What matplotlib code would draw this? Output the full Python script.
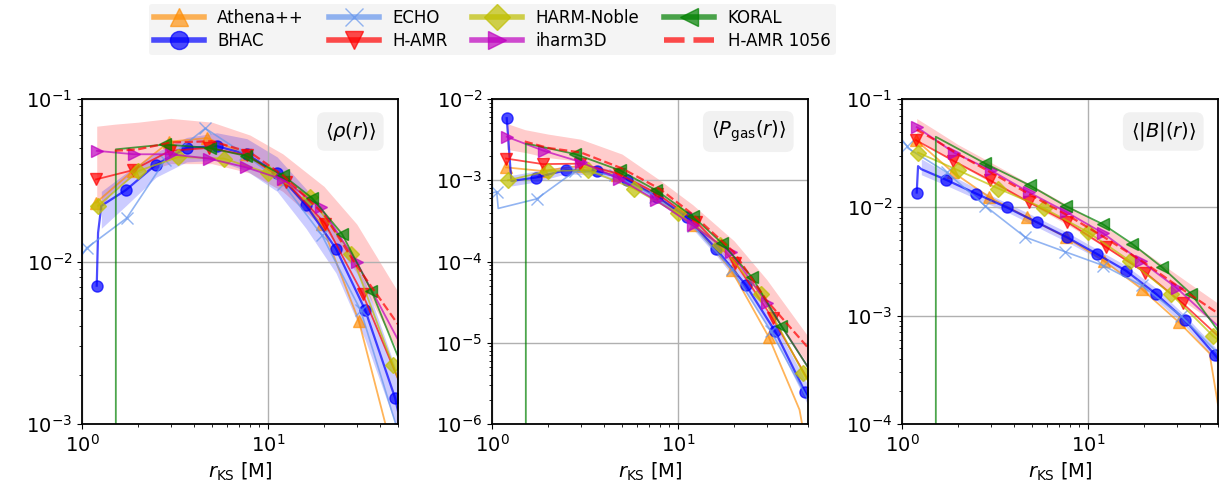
import numpy as np
import matplotlib
matplotlib.use("Agg")
from matplotlib import pyplot as plt
from matplotlib.lines import Line2D

# radii (marker positions + a few line-only points) for each code
athena_r = [1.19, 1.87, 2.95, 4.7, 7.6, 12.2, 19.4, 30.8, 45, 50]
bhac_r = [1.2, 1.22, 1.27, 1.72, 2.5, 3.65, 5.3, 7.7, 11.2, 16, 23.2, 33.3, 48.3, 50]
echo_r = [1.0, 1.06, 1.08, 1.74, 2.8, 4.6, 7.5, 12.1, 19.5, 31.5, 50]
hamr_r = [1.19, 1.88, 2.97, 4.8, 7.75, 12.5, 20.3, 32.3, 50]
harm_r = [1.22, 2.0, 3.3, 5.8, 10, 16.8, 28, 47, 50]
iharm_r = [1.2, 1.9, 3.0, 4.8, 7.6, 12, 19.2, 30, 50]
koral_r = [1.52, 1.52, 2.8, 4.85, 7.65, 12, 17.3, 25, 36, 50]
hamr1056_r = [1.2, 1.5, 2, 3, 5, 8, 12, 20, 30, 50]
bhac_band_r = [1.27, 1.72, 2.5, 3.65, 5.3, 7.7, 11.2, 16, 23.2, 33.3, 50]

# <rho(r)>
athena_rho = [0.023, 0.036, 0.0546, 0.0575, 0.046, 0.032, 0.017, 0.0043, 0.0008, 0.0003]
bhac_rho = [0.0071, 0.015, 0.022, 0.0275, 0.0395, 0.050, 0.0513, 0.0457, 0.035, 0.0222, 0.012, 0.00503, 0.00144, 0.0012]
echo_rho = [0.011, 0.0121, 0.0123, 0.0185, 0.042, 0.066, 0.0457, 0.03, 0.0145, 0.005, 0.0009]
hamr_rho = [0.032, 0.0365, 0.048, 0.05, 0.045, 0.031, 0.0171, 0.0063, 0.0019]
harm_rho = [0.022, 0.036, 0.044, 0.043, 0.035, 0.025, 0.0112, 0.0023, 0.0019]
iharm_rho = [0.048, 0.0457, 0.0457, 0.043, 0.038, 0.032, 0.0215, 0.0099, 0.0033]
koral_rho = [1e-9, 0.049, 0.0525, 0.050, 0.0446, 0.034, 0.0245, 0.0148, 0.0066, 0.0026]
hamr1056_rho = [np.nan, 0.048, 0.049, 0.054, 0.055, 0.047, 0.034, 0.0195, 0.0094, 0.0041]
hamr1056_rho_lo = [0.02, 0.028, 0.035, 0.04, 0.04, 0.035, 0.027, 0.016, 0.0085, 0.0028]
hamr1056_rho_hi = [0.068, 0.07, 0.072, 0.076, 0.072, 0.06, 0.046, 0.029, 0.017, 0.0065]
bhac_rho_lo = [0.016, 0.022, 0.033, 0.041, 0.042, 0.036, 0.027, 0.016, 0.0085, 0.0033, 0.0009]
bhac_rho_hi = [0.027, 0.035, 0.047, 0.058, 0.062, 0.057, 0.044, 0.028, 0.016, 0.0075, 0.002]

# <P_gas(r)>
athena_p = [0.00144, 0.0013, 0.0015, 0.00115, 0.00065, 0.00028, 7.8e-5, 1.17e-5, 1.5e-6, 4e-7]
bhac_p = [0.0058, 0.0035, 0.00098, 0.00108, 0.00133, 0.0013, 0.00102, 0.00063, 0.00035, 0.000144, 5.1e-5, 1.38e-5, 2.46e-6, 2.1e-6]
echo_p = [0.0007, 0.00072, 0.00045, 0.00059, 0.0013, 0.00115, 0.00063, 0.00027, 8e-5, 1.4e-5, 2e-6]
hamr_p = [0.00185, 0.00158, 0.0016, 0.0012, 0.00068, 0.00031, 9.7e-5, 2.0e-5, 3.5e-6]
harm_p = [0.001, 0.0013, 0.00133, 0.00079, 0.00039, 0.00016, 4e-5, 4.3e-6, 3.4e-6]
iharm_p = [0.00343, 0.0023, 0.00168, 0.00105, 0.00057, 0.00028, 0.00013, 3.1e-5, 5e-6]
koral_p = [1e-9, 0.00284, 0.0021, 0.00133, 0.00075, 0.00036, 0.000167, 6.4e-5, 1.6e-5, 5e-6]
hamr1056_p = [np.nan, 0.0030, 0.0025, 0.0022, 0.0014, 0.00078, 0.00038, 0.00013, 3.3e-5, 8.7e-6]
hamr1056_p_lo = [0.0024, 0.0022, 0.0019, 0.0017, 0.0011, 0.00055, 0.00027, 9e-5, 2.8e-5, 5.5e-6]
hamr1056_p_hi = [0.005, 0.0042, 0.0037, 0.0032, 0.0021, 0.001, 0.0005, 0.00018, 6e-5, 1.2e-5]
bhac_p_lo = [0.00085, 0.00095, 0.0012, 0.00115, 0.0009, 0.00055, 0.0003, 0.00012, 4.2e-5, 1.1e-5, 1.7e-6]
bhac_p_hi = [0.00115, 0.0013, 0.0015, 0.0015, 0.00118, 0.0007, 0.0004, 0.00017, 6e-5, 1.7e-5, 3e-6]

# <|B|(r)>
athena_b = [0.0417, 0.0212, 0.0124, 0.0081, 0.0053, 0.0032, 0.00177, 0.00087, 0.00045, 0.00015]
bhac_b = [0.0137, 0.024, 0.0225, 0.018, 0.0134, 0.010, 0.0073, 0.0053, 0.0037, 0.0026, 0.00159, 0.00091, 0.00043, 0.0004]
echo_b = [0.042, 0.037, 0.035, 0.021, 0.0103, 0.0053, 0.0039, 0.0029, 0.0019, 0.001, 0.00045]
hamr_b = [0.0417, 0.027, 0.0178, 0.0112, 0.0073, 0.0043, 0.0025, 0.0013, 0.00065]
harm_b = [0.032, 0.022, 0.0149, 0.0098, 0.0059, 0.0032, 0.00158, 0.00065, 0.0006]
iharm_b = [0.055, 0.032, 0.022, 0.0138, 0.0091, 0.0058, 0.0032, 0.0018, 0.0008]
koral_b = [1e-9, 0.0448, 0.0254, 0.016, 0.0102, 0.007, 0.0046, 0.0028, 0.00158, 0.00073]
hamr1056_b = [0.052, 0.042, 0.031, 0.021, 0.0128, 0.0082, 0.0054, 0.0031, 0.0019, 0.00105]
hamr1056_b_lo = [0.043, 0.034, 0.025, 0.017, 0.0105, 0.0067, 0.0044, 0.0025, 0.0015, 0.00082]
hamr1056_b_hi = [0.066, 0.052, 0.038, 0.026, 0.016, 0.0102, 0.0068, 0.0039, 0.0024, 0.0013]
bhac_b_lo = [0.02, 0.016, 0.012, 0.0091, 0.0066, 0.0048, 0.0034, 0.0023, 0.0014, 0.0008, 0.00036]
bhac_b_hi = [0.028, 0.021, 0.015, 0.011, 0.0081, 0.0059, 0.0041, 0.0029, 0.0018, 0.001, 0.00048]

codes = ["Athena++", "BHAC", "ECHO", "H-AMR", "HARM-Noble", "iharm3D", "KORAL"]
radii = {"Athena++": athena_r, "BHAC": bhac_r, "ECHO": echo_r, "H-AMR": hamr_r,
         "HARM-Noble": harm_r, "iharm3D": iharm_r, "KORAL": koral_r}

panels = [
    {"label": r"$\langle\rho(r)\rangle$", "ylim": (1e-3, 1e-1),
     "vals": [athena_rho, bhac_rho, echo_rho, hamr_rho, harm_rho, iharm_rho, koral_rho],
     "ref": hamr1056_rho, "ref_lo": hamr1056_rho_lo, "ref_hi": hamr1056_rho_hi,
     "bh_lo": bhac_rho_lo, "bh_hi": bhac_rho_hi},
    {"label": r"$\langle P_{\rm gas}(r)\rangle$", "ylim": (1e-6, 1e-2),
     "vals": [athena_p, bhac_p, echo_p, hamr_p, harm_p, iharm_p, koral_p],
     "ref": hamr1056_p, "ref_lo": hamr1056_p_lo, "ref_hi": hamr1056_p_hi,
     "bh_lo": bhac_p_lo, "bh_hi": bhac_p_hi},
    {"label": r"$\langle|B|(r)\rangle$", "ylim": (1e-4, 1e-1),
     "vals": [athena_b, bhac_b, echo_b, hamr_b, harm_b, iharm_b, koral_b],
     "ref": hamr1056_b, "ref_lo": hamr1056_b_lo, "ref_hi": hamr1056_b_hi,
     "bh_lo": bhac_b_lo, "bh_hi": bhac_b_hi},
]

style = {
    "Athena++": dict(color="darkorange", marker="^", ms=8, lw=1.3, alpha=0.65, markevery=list(range(0, 8))),
    "BHAC": dict(color="blue", marker="o", ms=8, lw=1.6, alpha=0.7, markevery=[0] + list(range(3, 13))),
    "ECHO": dict(color="cornflowerblue", marker="x", ms=8, lw=1.2, alpha=0.7, markevery=[1] + list(range(3, 10))),
    "H-AMR": dict(color="red", marker="v", ms=8, lw=1.3, alpha=0.7, markevery=list(range(0, 8))),
    "HARM-Noble": dict(color="y", marker="D", ms=8, lw=1.3, alpha=0.7, markevery=list(range(0, 8))),
    "iharm3D": dict(color="m", marker=">", ms=8, lw=1.3, alpha=0.7, markevery=list(range(0, 8))),
    "KORAL": dict(color="g", marker="<", ms=8, lw=1.3, alpha=0.7, markevery=list(range(2, 9))),
}

plt.rcParams["font.family"] = "DejaVu Sans"
fig = plt.figure(figsize=(12.27, 4.92), dpi=100)
lefts = [82, 492, 902]

for p, left in zip(panels, lefts):
    ax = fig.add_axes([left / 1227, 68 / 492, 316 / 1227, 325 / 492])
    ax.fill_between(hamr1056_r, p["ref_lo"], p["ref_hi"], color="red", alpha=0.2, lw=0)
    ax.fill_between(bhac_band_r, p["bh_lo"], p["bh_hi"], color="blue", alpha=0.2, lw=0)
    for code, vals in zip(codes, p["vals"]):
        ax.plot(radii[code], vals, **style[code])
    ax.plot(hamr1056_r, p["ref"], color="red", ls="--", lw=1.6, alpha=0.7)
    ax.set_xscale("log")
    ax.set_yscale("log")
    ax.set_xlim(1, 50)
    ax.set_ylim(*p["ylim"])
    ax.grid(True, which="major", color="#b0b0b0", lw=1)
    ax.tick_params(labelsize=14)
    ax.set_xlabel(r"$r_{\rm KS}$ [M]", fontsize=14)
    ax.text(0.93, 0.9, p["label"], transform=ax.transAxes, ha="right", va="center", fontsize=14,
            bbox=dict(boxstyle="round,pad=0.4", facecolor="#eeeeee", edgecolor="none", alpha=0.8))
    for s in ax.spines.values():
        s.set_linewidth(1.3)

handles = []
for code in codes:
    st = style[code]
    handles.append(Line2D([], [], color=st["color"], marker=st["marker"], ms=13, lw=4,
                          alpha=st["alpha"], label=code))
handles.append(Line2D([], [], color="red", ls="--", lw=4, alpha=0.7, label="H-AMR 1056"))

fig.legend(handles=handles, loc="center", bbox_to_anchor=(0.401, 0.94), ncol=4, fontsize=12,
           handlelength=3, columnspacing=1.5, frameon=True, facecolor="#f2f2f2", edgecolor="none",
           borderpad=0.3, labelspacing=0.3)

fig.savefig("out.png", dpi=100)
